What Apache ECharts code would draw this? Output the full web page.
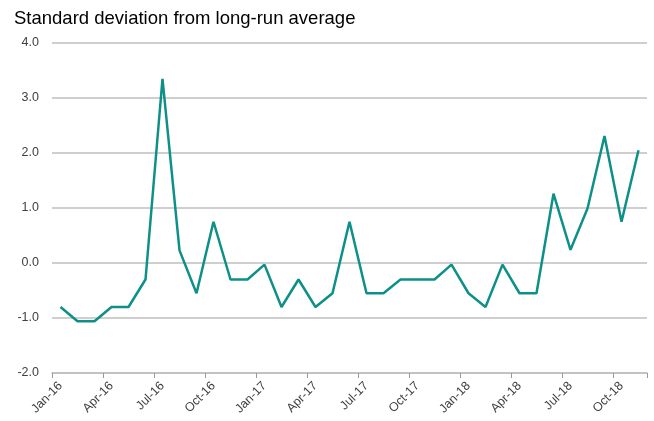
<!DOCTYPE html>
<html>
<head>
<meta charset="utf-8">
<script src="https://cdn.jsdelivr.net/npm/echarts@6/dist/echarts.min.js"></script>
<style>
  html, body { margin: 0; padding: 0; background: #fff; }
  #chart { width: 654px; height: 421px; }
</style>
</head>
<body>
<div id="chart"></div>
<script>
// monthly, Jan-16 .. Nov-18
const months = [
  'Jan-16','Feb-16','Mar-16','Apr-16','May-16','Jun-16','Jul-16','Aug-16','Sep-16','Oct-16','Nov-16','Dec-16',
  'Jan-17','Feb-17','Mar-17','Apr-17','May-17','Jun-17','Jul-17','Aug-17','Sep-17','Oct-17','Nov-17','Dec-17',
  'Jan-18','Feb-18','Mar-18','Apr-18','May-18','Jun-18','Jul-18','Aug-18','Sep-18','Oct-18','Nov-18'
];
const stdDev = [
  -0.80, -1.06, -1.06, -0.80, -0.80, -0.30, 3.35, 0.23, -0.55, 0.75, -0.30, -0.30,
  -0.03, -0.80, -0.30, -0.80, -0.55, 0.75, -0.55, -0.55, -0.30, -0.30, -0.30, -0.03,
  -0.55, -0.80, -0.03, -0.55, -0.55, 1.26, 0.24, 0.99, 2.31, 0.75, 2.05
];

const chart = echarts.init(document.getElementById('chart'), null, { renderer: 'canvas' });
chart.setOption({
  animation: false,
  title: {
    text: 'Standard deviation from long-run average',
    left: 9, top: 4,
    textStyle: { fontFamily: 'Liberation Sans', fontSize: 18.5, fontWeight: 'normal', color: '#000' }
  },
  grid: { left: 52, right: 7, top: 43, bottom: 48 },
  xAxis: {
    type: 'category',
    data: months,
    boundaryGap: true,
    axisLine: { onZero: false, lineStyle: { color: '#bfbfbf', width: 1.5 } },
    axisTick: { show: true, interval: 2, length: 5, lineStyle: { color: '#999', width: 1 } },
    axisLabel: {
      interval: 2, rotate: 45, margin: 11,
      fontFamily: 'Liberation Sans', fontSize: 12.5, color: '#404040'
    },
    splitLine: { show: false }
  },
  yAxis: {
    type: 'value',
    min: -2, max: 4, interval: 1,
    axisLine: { show: false },
    axisTick: { show: false },
    axisLabel: {
      formatter: v => v.toFixed(1),
      fontFamily: 'Liberation Sans', fontSize: 12.5, color: '#404040', margin: 13
    },
    splitLine: { lineStyle: { color: '#bfbfbf', width: 1.5 } }
  },
  series: [{
    type: 'line',
    data: stdDev,
    symbol: 'none',
    lineStyle: { color: '#0d9088', width: 2.5 }
  }]
});
</script>
</body>
</html>
